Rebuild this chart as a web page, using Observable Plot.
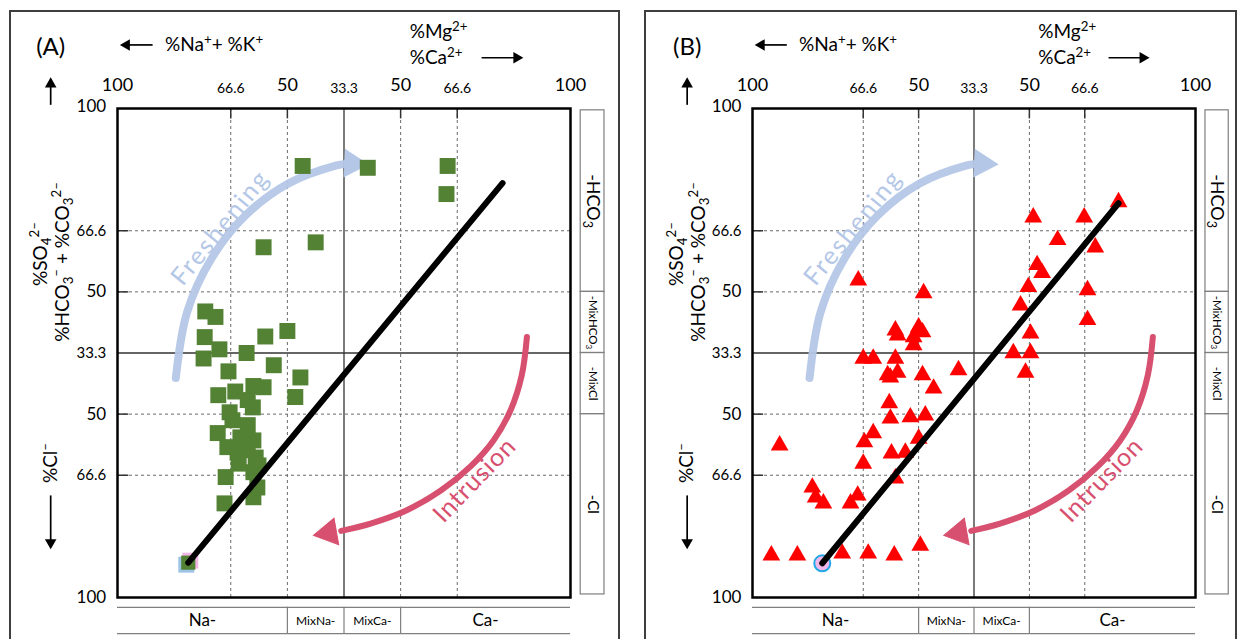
<!DOCTYPE html>
<html><head><meta charset="utf-8">
<script src="https://cdn.jsdelivr.net/npm/d3@7"></script>
<script src="https://cdn.jsdelivr.net/npm/@observablehq/plot@0.6"></script>
<style>
html,body{margin:0;padding:0;background:#fff;}
#wrap{position:relative;width:1237px;height:639px;overflow:hidden;font-family:Lato,"Noto Sans",sans-serif;}
.frame{position:absolute;border:2px solid #3f3f3f;border-bottom:none;}
.panel{position:absolute;top:0;}
</style></head><body>
<div id="wrap">
<div class="frame" style="left:9px;top:10px;width:607px;height:640px"></div>
<div class="frame" style="left:644px;top:10px;width:589px;height:640px"></div>
<div class="panel" id="pA" style="left:0px"></div>
<div class="panel" id="pB" style="left:630px"></div>
</div>
<script>
// ---- axis / classification data ----
const tickPos = [0, 2, 3, 4, 5, 6, 8];
const xTickLabels = ["100", "66.6", "50", "33.3", "50", "66.6", "100"];
const yTickLabels = ["100", "66.6", "50", "33.3", "50", "66.6", "100"];
const dashedGrid = [2, 3, 5, 6];
const solidGrid = [4];
const cationClasses = ["Na-", "MixNa-", "MixCa-", "Ca-"];
const cationBounds = [[0, 3], [3, 4], [4, 5], [5, 8]];
const cationDividers = [3, 4, 5];
const anionClasses = ["-HCO_{3}", "-MixHCO_{3}", "-MixCl", "-Cl"];
const anionBounds = [[5, 7.97], [4, 5], [3, 4], [0.05, 3]];

// ---- samples, panel A (squares) ----
const groupA = [
  [3.27,7.06],[4.42,7.03],[5.83,7.06],[5.81,6.60],[2.58,5.73],[3.50,5.81],
  [1.55,4.68],[1.73,4.59],[2.61,4.27],[3.00,4.36],[1.54,4.26],[1.80,4.06],
  [2.28,4.00],[1.52,3.91],[2.76,3.80],[1.96,3.70],[3.23,3.60],[1.78,3.31],
  [2.08,3.37],[2.40,3.46],[2.58,3.44],[3.14,3.28],[2.30,3.23],[2.39,3.11],
  [1.98,3.03],[1.77,2.69],[2.30,2.82],[2.17,2.62],[2.40,2.57],[1.94,2.46],
  [2.12,2.37],[2.30,2.41],[2.44,2.29],[2.14,2.19],[2.40,2.05],[1.91,1.97],
  [2.47,1.80],[2.40,1.64],[1.89,1.54],[2.23,2.49],[2.49,2.16],[2.03,2.90]
];
const sourceA = [[1.25, 0.57]];
const trendA = [[1.25, 0.57], [6.80, 6.78]];

// ---- samples, panel B (triangles) ----
const groupB = [
  [1.91,5.19],[3.09,4.98],[2.58,4.37],[2.62,4.29],[3.00,4.42],[2.91,4.26],
  [3.07,4.34],[2.91,4.13],[2.00,3.91],[2.18,3.91],[2.58,3.91],[2.44,3.64],
  [2.62,3.68],[2.49,3.60],[3.07,3.64],[3.72,3.72],[3.27,3.42],[2.47,3.18],
  [2.49,2.93],[2.85,2.95],[3.12,2.98],[0.49,2.49],[2.18,2.69],[2.02,2.54],
  [3.00,2.60],[2.51,2.36],[2.76,2.37],[2.00,2.19],[2.58,1.95],[1.08,1.80],
  [1.14,1.64],[1.28,1.54],[1.90,1.67],[1.77,1.54],[0.34,0.69],[0.81,0.69],
  [1.62,0.72],[2.09,0.72],[2.56,0.69],[3.03,0.85],[5.07,6.22],[5.99,6.22],
  [6.61,6.47],[5.51,5.85],[6.19,5.73],[5.14,5.44],[5.23,5.31],[4.98,5.08],
  [6.05,5.03],[4.84,4.78],[6.05,4.54],[5.02,4.32],[4.71,4.00],[5.02,4.00],
  [4.93,3.68]
];
const sourceB = [[1.26, 0.56]];
const trendB = [[1.26, 0.56], [6.61, 6.45]];

// ---- process annotations ----
const fresheningPath = [[1.03,3.59],[1.23,4.67],[1.65,5.53],[2.26,6.25],[3.01,6.77],[3.87,7.07],[4.00,7.09]];
const intrusionPath = [[7.23,4.26],[7.14,3.64],[6.94,3.06],[6.64,2.57],[6.24,2.15],[5.71,1.75],[5.09,1.42],[4.47,1.21],[3.95,1.09]];
const arrowHeads = [
  {x: 4.15, y: 7.10, rot: 93, color: "#b4c7e7"},
  {x: 3.73, y: 1.06, rot: -100, color: "#d8506f"}
];
const processLabels = [
  {x: 1.82, y: 6.05, rot: -51, text: "Freshening", color: "#b4c7e7"},
  {x: 6.31, y: 1.92, rot: -46, text: "Intrusion", color: "#d8506f"}
];

function rich(svg) {
  svg.querySelectorAll("text").forEach(t => {
    const s = t.textContent;
    if (s === "Freshening") t.style.letterSpacing = "2px";
    if (s === "Intrusion") t.style.letterSpacing = "1px";
    if (!/[\^_]\{/.test(s) || t.children.length) return;
    t.textContent = "";
    const re = /([\^_])\{([^}]*)\}|([^\^_]+)/g;
    let m, cur = 0;
    while ((m = re.exec(s))) {
      const sp = document.createElementNS("http://www.w3.org/2000/svg", "tspan");
      let target, scale;
      if (m[3] !== undefined) { sp.textContent = m[3]; target = 0; scale = 1; }
      else {
        sp.textContent = m[2]; scale = 0.7;
        target = m[1] === "^" ? -0.38 : 0.22;
        sp.setAttribute("font-size", "70%");
      }
      const d = (target - cur) / scale;
      if (d) sp.setAttribute("dy", d.toFixed(3) + "em");
      cur = target;
      t.appendChild(sp);
    }
  });
}

function panel(cfg) {
  const tops = tickPos.map((x, i) => ({x, label: xTickLabels[i], fs: xTickLabels[i].includes(".") ? 14 : 18}));
  const lefts = tickPos.map((y, i) => ({y, label: yTickLabels[i], fs: yTickLabels[i].includes(".") ? 15 : 17}));
  const cats = cationClasses.map((c, i) => ({label: c, x: (cationBounds[i][0] + cationBounds[i][1]) / 2, fs: c.startsWith("Mix") ? 12 : 17}));
  const ans = anionClasses.map((c, i) => ({label: c, y1: anionBounds[i][0], y2: anionBounds[i][1], fs: c.startsWith("-Mix") ? 11.5 : (c === "-Cl" ? 15 : 18)}));
  const gray = "#7f7f7f";
  const marks = [
    // grid
    Plot.ruleX(dashedGrid, {y1: 0, y2: 8, stroke: "#6a6a6a", strokeWidth: 1, strokeDasharray: "3,3"}),
    Plot.ruleY(dashedGrid, {x1: 0, x2: 8, stroke: "#6a6a6a", strokeWidth: 1, strokeDasharray: "3,3"}),
    Plot.ruleX(solidGrid, {y1: 0, y2: 8, stroke: "#333", strokeWidth: 1.3}),
    Plot.ruleY(solidGrid, {x1: 0, x2: 8, stroke: "#333", strokeWidth: 1.3}),
    Plot.ruleY(dashedGrid, {x1: 0, x2: 0.2, stroke: "#333", strokeWidth: 1.5}),
    Plot.ruleX(dashedGrid, {y1: 8, y2: 7.83, stroke: "#333", strokeWidth: 1.5}),
    // tick labels
    Plot.text(tops, {x: "x", y: d => d.fs > 15 ? 8.38 : 8.33, text: "label", fontSize: d => d.fs}),
    Plot.text(lefts, {x: -0.2, y: d => d.y === 8 ? 8.04 : d.y, text: "label", textAnchor: "end", fontSize: d => d.fs}),
    // cation classes (bottom)
    Plot.ruleY([-0.16, -0.59], {x1: 0, x2: 8, stroke: gray, strokeWidth: 1.2}),
    Plot.ruleX(cationDividers, {y1: -0.16, y2: -0.59, stroke: gray, strokeWidth: 1.2}),
    Plot.text(cats, {x: "x", y: -0.38, text: "label", fontSize: d => d.fs}),
    // anion classes (right)
    Plot.rect(ans, {x1: 8.18, x2: 8.6, y1: "y1", y2: "y2", stroke: gray, strokeWidth: 1.2, fill: "none"}),
    Plot.text(ans, {x: 8.39, y: d => (d.y1 + d.y2) / 2, text: "label", rotate: 90, fontSize: d => d.fs}),
    // headers
    Plot.text([cfg.letter], {x: -1.18, y: 9.0, text: d => d, fontSize: 24}),
    Plot.text(["%Na^{+}+ %K^{+}"], {x: 0.84, y: 9.04, text: d => d, textAnchor: "start", fontSize: 19}),
    Plot.text(["%Mg^{2+}", "%Ca^{2+}"], {x: 5.16, y: (d, i) => i ? 8.83 : 9.25, text: d => d, textAnchor: "start", fontSize: 19}),
    Plot.text(["%SO_{4}^{2–}"], {x: -1.36, y: 5.62, text: d => d, rotate: -90, fontSize: 19}),
    Plot.text(["%HCO_{3}^{–} + %CO_{3}^{2–}"], {x: -0.97, y: 5.49, text: d => d, rotate: -90, fontSize: 19}),
    Plot.text(["%Cl^{–}"], {x: -1.18, y: 2.2, text: d => d, rotate: -90, fontSize: 19}),
    // header arrows
    Plot.link([{x1: 0.62, y1: 9.04, x2: 0.16, y2: 9.04}, {x1: 6.43, y1: 8.83, x2: 7.05, y2: 8.83},
               {x1: -1.18, y1: 8.06, x2: -1.18, y2: 8.4}, {x1: -1.18, y1: 1.67, x2: -1.18, y2: 0.9}],
      {x1: "x1", y1: "y1", x2: "x2", y2: "y2", stroke: "black", strokeWidth: 1.7}),
    Plot.dot([{x: 0.16, y: 9.04, r: -90}, {x: 7.05, y: 8.83, r: 90}, {x: -1.18, y: 8.4, r: 0}, {x: -1.18, y: 0.9, r: 180}],
      {x: "x", y: "y", rotate: "r", symbol: "triangle", r: 4.3, fill: "black"}),
    // process arrows
    Plot.line(fresheningPath, {x: d => d[0], y: d => d[1], curve: "catmull-rom", stroke: "#b4c7e7", strokeWidth: 8, strokeOpacity: 0.95}),
    Plot.line(intrusionPath, {x: d => d[0], y: d => d[1], curve: "catmull-rom", stroke: "#d8506f", strokeWidth: 6}),
    Plot.dot(arrowHeads, {x: "x", y: "y", rotate: "rot", symbol: "triangle", r: 10, fill: "color", stroke: "color", strokeWidth: 1}),
    Plot.text(processLabels, {x: "x", y: "y", rotate: "rot", text: "text", fill: "color", fontSize: 25}),
    ...cfg.pointMarks,
    Plot.line(cfg.trend, {x: d => d[0], y: d => d[1], stroke: "black", strokeWidth: 6}),
    Plot.frame({stroke: "black", strokeWidth: 2.5})
  ];
  const svg = Plot.plot({
    width: cfg.width, height: 639,
    marginLeft: cfg.ml, marginRight: cfg.mr, marginTop: 108, marginBottom: 42,
    x: {domain: [0, 8], axis: null},
    y: {domain: [0, 8], axis: null},
    style: {fontFamily: "Lato, 'Noto Sans', sans-serif", fontSize: "16px", overflow: "visible", background: "transparent", color: "black"},
    marks
  });
  rich(svg);
  return svg;
}

const green = "#548235";
document.getElementById("pA").appendChild(panel({
  letter: "(A)", width: 620, ml: 117, mr: 50, trend: trendA,
  pointMarks: [
    Plot.dot(groupA, {x: d => d[0], y: d => d[1], symbol: "square", r: 9, fill: green}),
    Plot.dot(sourceA, {x: d => d[0], y: d => d[1], symbol: "square", r: 9, fill: "#f2b6e6", dx: 2, dy: -2}),
    Plot.dot(sourceA, {x: d => d[0], y: d => d[1], symbol: "square", r: 9, fill: "#9dc3e6", dx: -2, dy: 2}),
    Plot.dot(sourceA, {x: d => d[0], y: d => d[1], symbol: "square", r: 8, fill: green})
  ]
}));
document.getElementById("pB").appendChild(panel({
  letter: "(B)", width: 607, ml: 122, mr: 42, trend: trendB,
  pointMarks: [
    Plot.dot(groupB, {x: d => d[0], y: d => d[1], symbol: "triangle", r: 6.6, fill: "#ff0000"}),
    Plot.dot(sourceB, {x: d => d[0], y: d => d[1], r: 8, fill: "#f0b8e8", stroke: "#23a8e6", strokeWidth: 2})
  ]
}));
</script>
</body></html>
